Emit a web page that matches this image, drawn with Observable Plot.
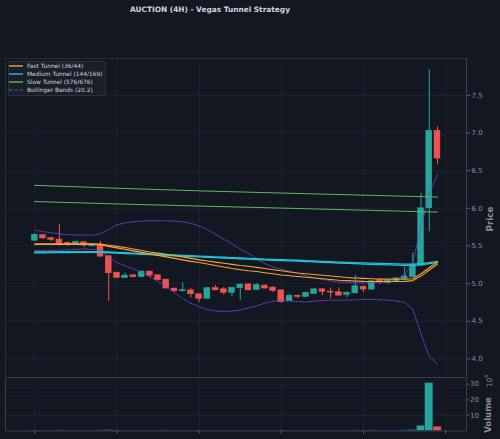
<!DOCTYPE html>
<html><head><meta charset="utf-8">
<script src="https://cdn.jsdelivr.net/npm/d3@7"></script>
<script src="https://cdn.jsdelivr.net/npm/@observablehq/plot@0.6"></script>
<style>
html,body{margin:0;padding:0;background:#131722;}
#wrap{position:relative;width:500px;height:439px;background:#131722;overflow:hidden;font-family:"DejaVu Sans",sans-serif;}
.abs{position:absolute;white-space:nowrap;}
</style></head><body><div id="wrap"></div>
<script>
const title = "AUCTION (4H) - Vegas Tunnel Strategy";
// candles (4H), index 0..49
const opens  = [5.57,5.645,5.605,5.585,5.54,5.52,5.548,5.495,5.518,5.363,5.146,5.075,5.11,5.084,5.16,5.11,5.053,4.934,4.898,4.91,4.858,4.797,4.943,4.924,4.877,4.938,4.99,4.916,4.973,4.947,4.91,4.765,4.84,4.823,4.863,4.924,4.894,4.885,4.85,4.87,4.96,4.92,5.04,5.01,5.022,5.057,5.084,5.24,6.0,7.03];
const highs  = [5.66,5.65,5.61,5.79,5.555,5.565,5.555,5.53,5.56,5.37,5.15,5.14,5.115,5.165,5.165,5.115,5.055,4.94,5.013,4.94,4.86,4.945,4.975,4.95,4.95,4.995,4.995,5.0,4.98,4.96,4.915,4.85,4.845,4.885,4.94,4.93,4.94,4.945,4.885,5.11,4.965,5.035,5.06,5.045,5.075,5.217,5.41,6.2,7.84,7.08];
const lows   = [5.56,5.585,5.56,5.50,5.495,5.51,5.48,5.49,5.35,4.765,5.07,5.07,5.075,5.08,5.08,5.04,4.93,4.885,4.885,4.81,4.75,4.795,4.905,4.85,4.83,4.774,4.905,4.91,4.93,4.88,4.745,4.76,4.80,4.82,4.86,4.84,4.80,4.835,4.81,4.865,4.88,4.915,4.987,4.99,5.02,5.05,5.08,5.23,5.69,6.58];
const closes = [5.65,5.60,5.58,5.52,5.515,5.553,5.505,5.52,5.358,5.137,5.075,5.106,5.084,5.16,5.106,5.044,4.934,4.898,4.916,4.858,4.797,4.94,4.91,4.877,4.943,4.987,4.91,4.98,4.934,4.903,4.752,4.84,4.823,4.877,4.924,4.89,4.88,4.84,4.88,4.964,4.92,5.03,5.027,5.04,5.07,5.097,5.248,6.0,7.03,6.66];
// volume, millions
const volumes = [0.2,0.1,0.1,0.2,0.1,0.1,0.1,0.1,0.3,0.5,0.2,0.1,0.1,0.1,0.1,0.1,0.2,0.1,0.1,0.1,0.2,0.1,0.1,0.1,0.1,0.1,0.1,0.1,0.1,0.1,0.2,0.1,0.1,0.1,0.1,0.1,0.1,0.1,0.1,0.2,0.1,0.2,0.1,0.1,0.1,0.3,0.6,3.4,30.8,2.8];
// tunnels
const fast44 = [5.53,5.53,5.53,5.53,5.53,5.53,5.53,5.53,5.525,5.51,5.495,5.48,5.46,5.44,5.42,5.405,5.39,5.37,5.355,5.335,5.315,5.30,5.285,5.27,5.255,5.24,5.23,5.215,5.20,5.185,5.17,5.155,5.14,5.13,5.12,5.11,5.10,5.09,5.08,5.075,5.07,5.065,5.06,5.06,5.058,5.058,5.065,5.13,5.21,5.29];
const fast36 = [5.52,5.52,5.52,5.52,5.52,5.52,5.52,5.52,5.515,5.495,5.475,5.455,5.435,5.415,5.395,5.375,5.355,5.335,5.315,5.295,5.28,5.26,5.24,5.22,5.20,5.185,5.17,5.16,5.145,5.13,5.115,5.105,5.095,5.085,5.075,5.065,5.055,5.045,5.04,5.035,5.03,5.028,5.027,5.027,5.027,5.03,5.04,5.10,5.18,5.26];
const med144 = [5.42,5.42,5.422,5.423,5.424,5.425,5.425,5.425,5.425,5.42,5.415,5.41,5.405,5.40,5.395,5.39,5.385,5.38,5.375,5.37,5.365,5.36,5.355,5.35,5.345,5.34,5.335,5.33,5.326,5.322,5.318,5.314,5.31,5.305,5.30,5.295,5.29,5.285,5.28,5.277,5.274,5.271,5.268,5.265,5.262,5.26,5.26,5.265,5.28,5.295];
const med169 = [5.41,5.41,5.411,5.412,5.413,5.414,5.414,5.414,5.414,5.41,5.405,5.40,5.395,5.39,5.385,5.38,5.375,5.37,5.365,5.36,5.355,5.35,5.345,5.34,5.335,5.33,5.325,5.32,5.315,5.31,5.306,5.302,5.298,5.293,5.288,5.283,5.278,5.273,5.268,5.264,5.26,5.256,5.252,5.249,5.246,5.243,5.242,5.25,5.265,5.28];
const slowIdx = [0,10,20,30,40,49];
const slow576 = [6.305,6.267,6.232,6.203,6.175,6.15];
const slow676 = [6.09,6.058,6.03,6.003,5.975,5.95];
// Bollinger (20,2)
const bbUpper = [5.71,5.69,5.675,5.66,5.65,5.645,5.645,5.645,5.66,5.72,5.78,5.805,5.82,5.83,5.835,5.835,5.835,5.83,5.82,5.80,5.765,5.715,5.655,5.59,5.53,5.46,5.40,5.33,5.265,5.22,5.19,5.165,5.135,5.105,5.08,5.055,5.035,5.02,5.013,5.01,5.01,5.01,5.015,5.025,5.05,5.11,5.28,5.75,6.2,6.45];
const bbLower = [5.44,5.44,5.44,5.445,5.45,5.455,5.46,5.455,5.44,5.35,5.28,5.235,5.195,5.15,5.09,5.03,4.96,4.88,4.80,4.74,4.69,4.655,4.635,4.63,4.635,4.65,4.675,4.705,4.74,4.765,4.775,4.77,4.76,4.755,4.765,4.775,4.78,4.78,4.78,4.785,4.79,4.79,4.785,4.78,4.77,4.75,4.66,4.33,4.03,3.93];
const priceTicks = [4.0,4.5,5.0,5.5,6.0,6.5,7.0,7.5];
const volTicks = [10,20,30];
const xTicks = [0,10,20,30,40,50];
const legendLabels = ["Fast Tunnel (36/44)","Medium Tunnel (144/169)","Slow Tunnel (576/676)","Bollinger Bands (20.2)"];
const legendColors = ["#f7a431","#22c1d6","#5cb85c","#6a4bd6"];

const TEAL = "#26a69a", RED = "#ef5350";
const xDomain = [-3.56, 52.53];
const grid = "#222735";
const candles = opens.map((o,i)=>({i, open:o, high:highs[i], low:lows[i], close:closes[i], vol:volumes[i], col: closes[i] >= o ? TEAL : RED}));

const wrap = document.getElementById("wrap");

const lineOf = (arr, color, w, extra={}) => Plot.line(arr, {x:(d,i)=>i, y:d=>d, stroke:color, strokeWidth:w, ...extra});

const main = Plot.plot({
  width: 500, height: 376,
  marginLeft: 5, marginRight: 34, marginTop: 58, marginBottom: 0,
  style: {background:"transparent", fontFamily:"DejaVu Sans", fontSize:"7px", color:"#8b8f99"},
  x: {domain: xDomain, axis: null},
  y: {domain: [3.766, 7.99], axis: null},
  color: {type: "identity"},
  marks: [
    Plot.gridY(priceTicks, {stroke: grid, strokeOpacity: 1, strokeWidth: 0.7}),
    Plot.gridX(xTicks, {stroke: grid, strokeOpacity: 1, strokeWidth: 0.7}),
    Plot.frame({stroke: "#2a2e39"}),
    Plot.ruleX(candles, {x:"i", y1:"low", y2:"high", stroke:"col", strokeWidth:1}),
    Plot.rect(candles, {x1:d=>d.i-0.36, x2:d=>d.i+0.36, y1:"open", y2:"close", fill:"col", stroke:"col", strokeWidth:0.5}),
    lineOf(bbUpper, "#6a4bd6", 0.9, {strokeDasharray:"2,1.4"}),
    lineOf(bbLower, "#6a4bd6", 0.9, {strokeDasharray:"2,1.4"}),
    Plot.line(slow576, {x:(d,i)=>slowIdx[i], y:d=>d, stroke:"#5cb85c", strokeWidth:1}),
    Plot.line(slow676, {x:(d,i)=>slowIdx[i], y:d=>d, stroke:"#5cb85c", strokeWidth:1}),
    lineOf(med144, "#22c1d6", 1.3),
    lineOf(med169, "#22c1d6", 1.3),
    lineOf(fast44, "#f7a431", 1.1),
    lineOf(fast36, "#f7a431", 1.1),
    Plot.ruleX([xDomain[1]], {stroke:"#3d414d", strokeWidth:1}),
    Plot.axisY(priceTicks, {anchor:"right", tickSize:3.5, tickPadding:1.5, tickFormat:d3.format(".1f"), stroke:"#5d616c", fill:"#8b8f99", fontSize:7, label:null})
  ]
});
main.style.position = "absolute"; main.style.left = "0px"; main.style.top = "0px";
wrap.appendChild(main);

const vol = Plot.plot({
  width: 500, height: 63,
  marginLeft: 5, marginRight: 34, marginTop: 1, marginBottom: 8.5,
  style: {background:"transparent", fontFamily:"DejaVu Sans", fontSize:"7px", color:"#8b8f99"},
  x: {domain: xDomain, axis: null},
  y: {domain: [0, 34.3], axis: null},
  color: {type: "identity"},
  marks: [
    Plot.gridY(volTicks, {stroke: grid, strokeOpacity: 1, strokeWidth: 0.7}),
    Plot.gridX(xTicks, {stroke: grid, strokeOpacity: 1, strokeWidth: 0.7}),
    Plot.frame({stroke: "#3a3e4a"}),
    Plot.rect(candles, {x1:d=>d.i-0.5, x2:d=>d.i+0.5, y1:0, y2:"vol", fill:"col", stroke:"#1d3452", strokeWidth:0.6}),
    Plot.axisY(volTicks, {anchor:"right", tickSize:2, tickPadding:1.5, stroke:"#5d616c", fill:"#8b8f99", fontSize:7, label:null}),
    Plot.axisX(xTicks, {anchor:"bottom", tickSize:3, tickFormat:()=>"", stroke:"#5d616c", label:null})
  ]
});
vol.style.position = "absolute"; vol.style.left = "0px"; vol.style.top = "376px";
wrap.appendChild(vol);

function addText(txt, css) {
  const d = document.createElement("div");
  d.className = "abs"; d.textContent = txt;
  Object.assign(d.style, css);
  wrap.appendChild(d);
  return d;
}
addText(title, {left:"210px", top:"8.5px", transform:"translate(-50%,-50%)", fontSize:"7.4px", fontWeight:"bold", color:"#d1d4dc"});
addText("Price", {left:"490px", top:"219px", transform:"translate(-50%,-50%) rotate(-90deg)", fontSize:"8.8px", fontWeight:"bold", color:"#8b8f99"});
addText("Volume", {left:"488px", top:"415px", transform:"translate(-50%,-50%) rotate(-90deg)", fontSize:"8.5px", fontWeight:"bold", color:"#8b8f99"});
const e = addText("", {left:"488px", top:"381px", transform:"translate(-50%,-50%) rotate(-90deg)", fontSize:"7.5px", color:"#8b8f99"});
e.innerHTML = "10<sup style='font-size:5px;vertical-align:4px'>6</sup>";

// legend
const leg = document.createElement("div");
leg.className = "abs";
Object.assign(leg.style, {left:"8px", top:"61px", width:"98px", height:"35px", background:"#1a1e29", border:"1px solid #2c303d", borderRadius:"2px", boxSizing:"border-box"});
wrap.appendChild(leg);
legendLabels.forEach((lab, k) => {
  const cy = 66 + k*8;
  const s = document.createElementNS("http://www.w3.org/2000/svg","svg");
  s.setAttribute("width","16"); s.setAttribute("height","4");
  s.style.position = "absolute"; s.style.left = "8px"; s.style.top = (cy-2)+"px";
  const l = document.createElementNS("http://www.w3.org/2000/svg","line");
  l.setAttribute("x1","1"); l.setAttribute("x2","15"); l.setAttribute("y1","2"); l.setAttribute("y2","2");
  l.setAttribute("stroke", legendColors[k]); l.setAttribute("stroke-width", k===3 ? "1" : "1.4");
  if (k===3) l.setAttribute("stroke-dasharray","3.3,2.3");
  s.appendChild(l);
  wrap.appendChild(s);
  addText(lab, {left:"27px", top:cy+"px", transform:"translateY(-50%)", fontSize:"5.9px", color:"#d1d4dc"});
});
</script></body></html>
